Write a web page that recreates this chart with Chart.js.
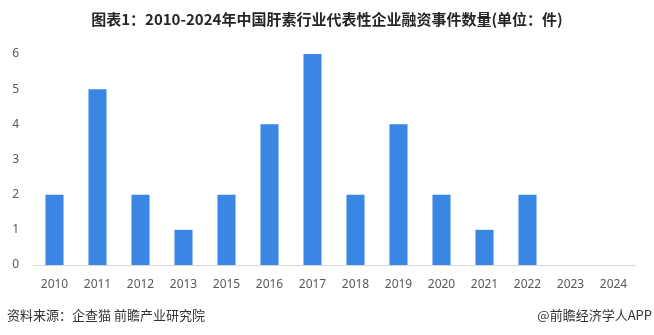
<!DOCTYPE html>
<html>
<head>
<meta charset="utf-8">
<script src="https://cdn.jsdelivr.net/npm/chart.js@4/dist/chart.umd.min.js"></script>
<style>
  body { margin: 0; background: #fff; }
  #wrap { position: relative; width: 654px; height: 335px; font-family: "Noto Sans CJK SC", sans-serif; }
  #title { position: absolute; top: 8px; left: 0; width: 654px; text-align: center; font-size: 15px; font-weight: bold; color: #262626; }
  #src { position: absolute; left: 7px; top: 305px; font-size: 13px; color: #333; }
  #brand { position: absolute; right: 2px; top: 305px; font-size: 13px; color: #333; }
</style>
</head>
<body>
<div id="wrap">
  <canvas id="bar" width="654" height="335"></canvas>
  <div id="title">图表1：2010-2024年中国肝素行业代表性企业融资事件数量(单位：件)</div>
  <div id="src">资料来源：企查猫 前瞻产业研究院</div>
  <div id="brand">@前瞻经济学人APP</div>
</div>
<script>
// data
const years = ["2010", "2011", "2012", "2013", "2015", "2016", "2017", "2018", "2019", "2020", "2021", "2022", "2023", "2024"];
const events = [2, 5, 2, 1, 2, 4, 6, 2, 4, 2, 1, 2, 0, 0];

// colors
const blue = "#3a86e5";
const axisGray = "#d9d9d9";
const tickGray = "#595959";

const barChart = document.getElementById("bar");

const bar = new Chart(barChart, {
  type: "bar",
  data: {
    labels: years,
    datasets: [
      {
        label: "融资事件数量",
        backgroundColor: blue,
        data: events,
        categoryPercentage: 1,
        barPercentage: 0.42,
      },
    ],
  },
  options: {
    responsive: false,
    animation: false,
    layout: {
      padding: { top: 54, right: 19, left: 0, bottom: 0 },
    },
    scales: {
      x: {
        grid: { display: false },
        border: { display: true, color: axisGray, width: 1 },
        ticks: {
          color: tickGray,
          font: { size: 12, family: "'Noto Sans', sans-serif" },
          padding: 4,
          maxRotation: 0,
        },
        afterFit: (s) => {
          s.height = 70;
        },
      },
      y: {
        min: 0,
        max: 6,
        grid: { display: false, drawTicks: false },
        border: { display: false },
        ticks: {
          stepSize: 1,
          color: tickGray,
          font: { size: 12, family: "'Noto Sans', sans-serif" },
          padding: 14,
        },
        afterFit: (s) => {
          s.width = 33;
        },
      },
    },
    plugins: {
      legend: { display: false },
      tooltip: { enabled: false },
    },
  },
});
</script>
</body>
</html>
